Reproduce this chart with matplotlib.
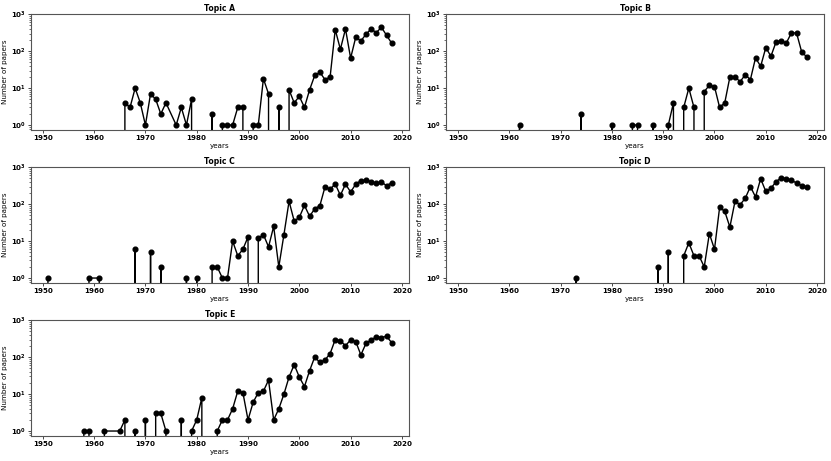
import matplotlib
matplotlib.use("Agg")
import matplotlib.pyplot as plt

# ---- data: years with papers and number of papers per topic ----
years_a = [1966, 1967, 1968, 1969, 1970, 1971, 1972, 1973, 1974, 1976, 1977, 1978, 1979,
           1983, 1985, 1986, 1987, 1988, 1989, 1991, 1992, 1993, 1994, 1996] + list(range(1998, 2019))
counts_a = [4, 3, 10, 4, 1, 7, 5, 2, 4, 1, 3, 1, 5,
            2, 1, 1, 1, 3, 3, 1, 1, 18, 7, 3,
            9, 4, 6, 3, 9, 22, 27, 17, 20, 385, 113, 400, 65, 240, 190, 288, 400, 318, 445, 270, 165]

years_b = [1962, 1974, 1980, 1984, 1985, 1988, 1991, 1992, 1994, 1995, 1996] + list(range(1998, 2019))
counts_b = [1, 2, 1, 1, 1, 1, 1, 4, 3, 10, 3,
            8, 12, 11, 3, 4, 20, 20, 15, 23, 17, 66, 39, 125, 73, 178, 190, 167, 315, 310, 95, 70]

years_c = [1951, 1959, 1961, 1968, 1971, 1973, 1978, 1980, 1983, 1984, 1985, 1986, 1987,
           1988, 1989, 1990] + list(range(1992, 2019))
counts_c = [1, 1, 1, 6, 5, 2, 1, 1, 2, 2, 1, 1, 10, 4, 6, 13,
            12, 15, 7, 25, 2, 15, 120, 35, 44, 93, 47, 75, 91, 293, 253, 354, 174, 350, 214, 350,
            436, 445, 407, 368, 400, 317, 380]

years_d = [1973, 1989, 1991] + list(range(1994, 2019))
counts_d = [1, 2, 5,
            4, 9, 4, 4, 2, 16, 6, 82, 64, 24, 120, 97, 145, 300, 157, 490, 222, 270, 407, 520,
            490, 445, 375, 320, 285]

years_e = [1958, 1959, 1962, 1965, 1966, 1968, 1970, 1972, 1973, 1974, 1977, 1979, 1980,
           1981] + list(range(1984, 2019))
counts_e = [1, 1, 1, 1, 2, 1, 2, 3, 3, 1, 2, 1, 2, 8,
            1, 2, 2, 4, 12, 11, 2, 6, 11, 12, 24, 2, 4, 10, 29, 63, 29, 16, 43, 101,
            72, 84, 125, 300, 275, 205, 295, 264, 115, 238, 295, 355, 340, 370, 247]

topics = ["Topic A", "Topic B", "Topic C", "Topic D", "Topic E"]
topic_years = [years_a, years_b, years_c, years_d, years_e]
topic_counts = [counts_a, counts_b, counts_c, counts_d, counts_e]

# common year index (all years where any topic has papers), missing -> 0
all_years = sorted(set().union(*[set(y) for y in topic_years]))

plt.rcParams["font.family"] = "DejaVu Sans"
fs = 5.1

fig, axes = plt.subplots(3, 2, figsize=(8.31, 4.61), dpi=100)
fig.subplots_adjust(left=0.037, right=0.9916, top=0.969, bottom=0.055,
                    hspace=0.326, wspace=0.098)
axes = axes.ravel()

for i, (name, yrs, cnts) in enumerate(zip(topics, topic_years, topic_counts)):
    ax = axes[i]
    lookup = dict(zip(yrs, cnts))
    series = [lookup.get(y, 0) for y in all_years]
    ax.plot(all_years, series, color="black", marker="o", markersize=3.4, linewidth=1.0)
    ax.set_yscale("log")
    ax.set_ylim(0.75, 1000)
    ax.set_title(name, fontsize=fs + 0.4, fontweight="bold", pad=2.5)
    ax.set_xlabel("years", fontsize=fs, labelpad=1.5)
    ax.set_ylabel("Number of papers", fontsize=fs, labelpad=2)
    ax.tick_params(axis="both", which="major", labelsize=fs, length=2, width=0.5, pad=1.5)
    ax.tick_params(axis="both", which="minor", length=1.2, width=0.4)
    for lab in ax.get_xticklabels() + ax.get_yticklabels():
        lab.set_fontweight("bold")
    for sp in ax.spines.values():
        sp.set_linewidth(0.8)
        sp.set_color("#555555")

axes[5].axis("off")

fig.savefig("out.png", dpi=100)
